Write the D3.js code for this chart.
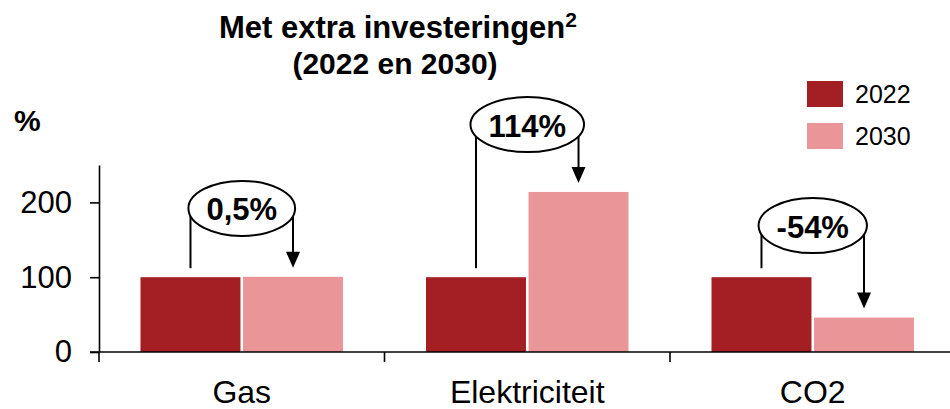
<!DOCTYPE html>
<html>
<head>
<meta charset="utf-8">
<script src="https://cdn.jsdelivr.net/npm/d3@7"></script>
<style>
  html, body { margin: 0; padding: 0; background: #fff; }
  svg { display: block; font-family: "Liberation Sans", Arial, sans-serif; }
</style>
</head>
<body>
<svg id="chart" width="950" height="409"></svg>
<script>
// Index values (2022 = 100) per category
const categories = ["Gas", "Elektriciteit", "CO2"];
const seriesNames = ["2022", "2030"];
const values2022 = [100, 100, 100];
const values2030 = [100.5, 214, 46];
const changeLabels = ["0,5%", "114%", "-54%"];
const yTicks = [0, 100, 200];

const colors = { "2022": "#A41F23", "2030": "#EA9698" };

// Height (in axis units) at which each change callout sits
const calloutLevel = [192, 304, 169];

const svg = d3.select("#chart");
const W = 950, H = 409;
const axisX = 99, baseY = 352;

const y = d3.scaleLinear().domain([0, 250]).range([baseY, 165]);
const x0 = d3.scaleBand().domain(categories).range([axisX, 955.5]).paddingInner(0).paddingOuter(0);
const x1 = d3.scaleBand().domain(seriesNames).range([41.5, 244]).paddingInner(0.025);

const rows = categories.map((c, i) => ({
  cat: c,
  vals: [
    { key: "2022", v: values2022[i] },
    { key: "2030", v: values2030[i] }
  ],
  label: changeLabels[i],
  level: calloutLevel[i]
}));

// Title
const title = svg.append("text")
  .attr("x", 398).attr("y", 38)
  .attr("text-anchor", "middle")
  .attr("font-size", 31).attr("font-weight", "bold").attr("fill", "#000");
title.append("tspan").text("Met extra investeringen");
title.append("tspan").attr("font-size", 21).attr("dy", -11).text("2");
svg.append("text")
  .attr("x", 395).attr("y", 74)
  .attr("text-anchor", "middle")
  .attr("font-size", 30).attr("font-weight", "bold")
  .text("(2022 en 2030)");

// Unit label
svg.append("text")
  .attr("x", 14).attr("y", 131)
  .attr("font-size", 30).attr("font-weight", "bold")
  .text("%");

// Bars
const groups = svg.append("g").selectAll("g.cat")
  .data(rows).join("g")
  .attr("class", "cat")
  .attr("transform", d => `translate(${x0(d.cat)},0)`);

groups.selectAll("rect")
  .data(d => d.vals).join("rect")
  .attr("x", d => x1(d.key))
  .attr("width", x1.bandwidth())
  .attr("y", d => y(d.v))
  .attr("height", d => y(0) - y(d.v))
  .attr("fill", d => colors[d.key]);

// Y axis
const yAxis = d3.axisLeft(y).tickValues(yTicks).tickSize(9).tickSizeOuter(0).tickPadding(18);
const gy = svg.append("g").attr("transform", `translate(${axisX},0)`).call(yAxis);
gy.select(".domain").attr("stroke", "#000").attr("stroke-width", 1.6);
gy.selectAll(".tick line").attr("stroke", "#000").attr("stroke-width", 1.6);
gy.selectAll(".tick text").attr("font-size", 31).attr("fill", "#000")
  .attr("font-family", "'Liberation Sans', Arial, sans-serif");

// X axis: baseline, boundary ticks, centred labels
const gx = svg.append("g");
gx.append("line")
  .attr("x1", 90).attr("x2", W)
  .attr("y1", baseY).attr("y2", baseY)
  .attr("stroke", "#000").attr("stroke-width", 1.6);
gx.selectAll("line.bound")
  .data(categories.map(c => x0(c)))
  .join("line").attr("class", "bound")
  .attr("x1", d => d).attr("x2", d => d)
  .attr("y1", baseY).attr("y2", baseY + 10)
  .attr("stroke", "#000").attr("stroke-width", 1.6);
gx.selectAll("text")
  .data(categories).join("text")
  .attr("x", d => x0(d) + x0.bandwidth() / 2)
  .attr("y", 403)
  .attr("text-anchor", "middle")
  .attr("font-size", 32)
  .text(d => d);

// Change callouts: bracket from 2022 bar to an arrow onto the 2030 bar
const callouts = svg.append("g").selectAll("g.callout")
  .data(rows).join("g").attr("class", "callout")
  .attr("transform", d => `translate(${x0(d.cat)},0)`);

callouts.each(function (d) {
  const g = d3.select(this);
  const cx = x0.bandwidth() / 2;
  const cy = y(d.level);
  const lx = x1("2022") + x1.bandwidth() / 2;
  const rx = x1("2030") + x1.bandwidth() / 2;
  const leftEnd = y(d.vals[0].v) - 9;
  const tipY = y(d.vals[1].v) - 9;

  g.append("line")
    .attr("x1", lx).attr("x2", lx).attr("y1", cy).attr("y2", leftEnd)
    .attr("stroke", "#000").attr("stroke-width", 2);
  g.append("line")
    .attr("x1", rx).attr("x2", rx).attr("y1", cy).attr("y2", tipY - 14)
    .attr("stroke", "#000").attr("stroke-width", 2);
  g.append("path")
    .attr("d", `M${rx - 7},${tipY - 16} L${rx + 7},${tipY - 16} L${rx},${tipY} Z`)
    .attr("fill", "#000");

  const ell = g.append("ellipse")
    .attr("cx", cx).attr("cy", cy)
    .attr("ry", 27.5)
    .attr("fill", "#fff").attr("stroke", "#000").attr("stroke-width", 2);
  const t = g.append("text")
    .attr("x", cx).attr("y", cy + 12)
    .attr("text-anchor", "middle")
    .attr("font-size", 31).attr("font-weight", "bold")
    .text(d.label);
  const tw = t.node().getComputedTextLength();
  ell.attr("rx", tw / 2 + 18);
});

// Legend
const legend = svg.append("g").selectAll("g.leg")
  .data(seriesNames).join("g").attr("class", "leg")
  .attr("transform", (d, i) => `translate(807,${81 + i * 42})`);
legend.append("rect")
  .attr("width", 36).attr("height", 26)
  .attr("fill", d => colors[d]);
legend.append("text")
  .attr("x", 48).attr("y", 22)
  .attr("font-size", 25)
  .text(d => d);
</script>
</body>
</html>
